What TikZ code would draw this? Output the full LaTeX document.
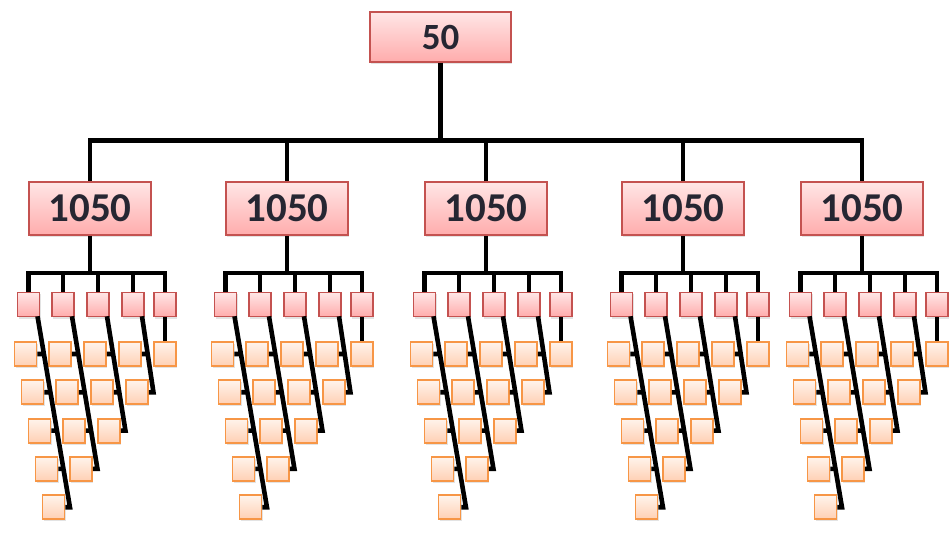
\documentclass[tikz,border=0pt]{standalone}
\usepackage{fontspec}
\setmainfont{Carlito}
\usetikzlibrary{shadows,calc}
\definecolor{redline}{RGB}{196,82,80}
\definecolor{redtop}{RGB}{255,230,230}
\definecolor{redbot}{RGB}{255,172,172}
\definecolor{orline}{RGB}{247,150,70}
\definecolor{ortop}{RGB}{255,244,236}
\definecolor{orbot}{RGB}{255,208,180}
\definecolor{txt}{RGB}{38,38,50}
\begin{document}
\begin{tikzpicture}[x=1pt,y=-1pt,
  shade/.style={drop shadow={shadow xshift=1pt,shadow yshift=-2pt,opacity=0.22}},
  topbox/.style={draw=redline,line width=1.6pt,top color=redtop,bottom color=redbot,
    minimum width=141pt,minimum height=50pt,inner sep=0pt,shade,
    font=\bfseries\fontsize{37}{37}\selectfont,text=txt},
  bigbox/.style={draw=redline,line width=1.6pt,top color=redtop,bottom color=redbot,
    minimum width=122pt,minimum height=53pt,inner sep=0pt,shade,
    font=\bfseries\fontsize{41}{41}\selectfont,text=txt},
  redsq/.style={draw=redline,line width=1.6pt,top color=redtop,bottom color=redbot,
    minimum width=22pt,minimum height=24pt,inner sep=0pt,shade},
  orsq/.style={draw=orline,line width=1.9pt,top color=ortop,bottom color=orbot,
    minimum width=22pt,minimum height=24pt,inner sep=0pt,shade},
  conn/.style={draw=black,line width=4.6pt}]
\useasboundingbox (0,0) rectangle (952,534);

\node[topbox] (top) at (440.5,37) {50};
\coordinate (bar) at (0,140.5);

\foreach \g/\gx in {1/90,2/287,3/486,4/683,5/862} {
  \node[bigbox] (g\g) at (\gx,208.5) {1050};
  \coordinate (b\g) at (\gx,273);
  \foreach \c/\dx in {1/-61.5,2/-27,3/8,4/43,5/75} {
    \node[redsq] (r\g\c) at ({\gx+(\dx)},304.5) {};
  }
  \foreach \c in {1,...,4} {
    \pgfmathtruncatemacro\nrows{6-\c}
    \foreach \r in {1,...,\nrows} {
      \node[orsq] (o\g\c\r) at ($(r\g\c)+({-3+7*(\r-1)},{49.5+38.3*(\r-1)})$) {};
    }
  }
  \node[orsq] (o\g51) at ($(r\g5)+(0,49.5)$) {};
  % connectors inside the group
  \draw[conn] (g\g.south) -- (g\g.south |- b\g);
  \draw[conn] (r\g1.north) -- (r\g1.north |- b\g) -- (r\g5.north |- b\g) -- (r\g5.north);
  \foreach \c in {2,3,4} {
    \draw[conn] (r\g\c.north) -- (r\g\c.north |- b\g);
  }
  \draw[conn] (r\g5.south) -- (o\g51.north);
  \foreach \c in {1,...,4} {
    \pgfmathtruncatemacro\nrows{6-\c}
    \pgfmathtruncatemacro\nm{5-\c}
    \coordinate (s\g\c) at ($(r\g\c.south)+(9,-1)$);
    \coordinate (e\g\c) at ($(o\g\c\nrows.east)+(4.5,0)$);
    \draw[conn] (s\g\c) -- (e\g\c) -- (o\g\c\nrows.east);
    \foreach \r in {1,...,\nm} {
      \draw[conn] (o\g\c\r.east) -- (intersection cs: first line={(s\g\c)--(e\g\c)}, second line={(o\g\c\r.west)--(o\g\c\r.east)});
    }
  }
}

% top level connectors
\draw[conn] (top.south) -- (top.south |- bar);
\draw[conn] (g1.north) -- (g1.north |- bar) -- (g5.north |- bar) -- (g5.north);
\foreach \g in {2,3,4} {
  \draw[conn] (g\g.north) -- (g\g.north |- bar);
}
\end{tikzpicture}
\end{document}
